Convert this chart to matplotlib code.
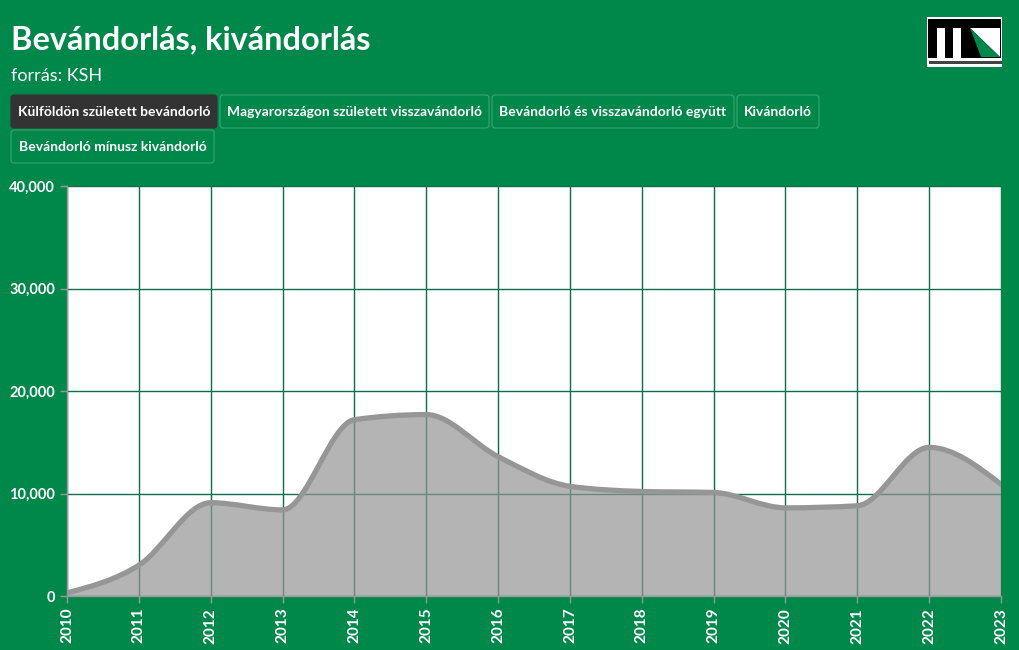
import numpy as np
import matplotlib
matplotlib.use('Agg')
import matplotlib.pyplot as plt
from matplotlib.path import Path
from matplotlib.patches import PathPatch, FancyBboxPatch, Rectangle, Polygon
from matplotlib.ticker import FuncFormatter

# data (KSH, külföldön született bevándorló)
years = [2010, 2011, 2012, 2013, 2014, 2015, 2016, 2017, 2018, 2019, 2020, 2021, 2022, 2023]
values = [300, 3000, 9100, 8400, 17200, 17700, 13600, 10700, 10200, 10100, 8600, 8800, 14500, 10900]

title = 'Bevándorlás, kivándorlás'
subtitle = 'forrás: KSH'
buttons = ['Külföldön született bevándorló', 'Magyarországon született visszavándorló',
           'Bevándorló és visszavándorló együtt', 'Kivándorló', 'Bevándorló mínusz kivándorló']

GREEN = '#00874a'
FONT = 'Lato'


def monotone_path(x, y):
    # cubic bezier segments like d3.curveMonotoneX
    x = np.asarray(x, float)
    y = np.asarray(y, float)
    n = len(x)
    h = np.diff(x)
    s = np.diff(y) / h
    t = np.zeros(n)
    for i in range(1, n - 1):
        p = (s[i - 1] * h[i] + s[i] * h[i - 1]) / (h[i - 1] + h[i])
        t[i] = (np.sign(s[i - 1]) + np.sign(s[i])) * min(abs(s[i - 1]), abs(s[i]), 0.5 * abs(p))
    t[0] = (3 * s[0] - t[1]) / 2
    t[-1] = (3 * s[-1] - t[-2]) / 2
    verts = [(x[0], y[0])]
    codes = [Path.MOVETO]
    for i in range(n - 1):
        dx = h[i] / 3
        verts += [(x[i] + dx, y[i] + dx * t[i]), (x[i + 1] - dx, y[i + 1] - dx * t[i + 1]), (x[i + 1], y[i + 1])]
        codes += [Path.CURVE4] * 3
    return verts, codes


fig = plt.figure(figsize=(10.2, 6.5), dpi=100)
fig.patch.set_facecolor(GREEN)

# header overlay in pixel coordinates
hd = fig.add_axes([0, 0, 1, 1], zorder=0)
hd.set_xlim(0, 1020)
hd.set_ylim(650, 0)
hd.axis('off')

hd.text(11, 49, title, color='white', fontsize=23.4, fontweight='bold', family=FONT, va='baseline')
hd.text(11, 81, subtitle, color='white', fontsize=13, family=FONT, va='baseline')

boxes = [(11, 95, 206), (220, 95, 269), (492, 95, 242), (737, 95, 82), (11, 130, 203)]
for i, (lab, (bx, by, bw)) in enumerate(zip(buttons, boxes)):
    fc = '#333333' if i == 0 else GREEN
    ec = '#333333' if i == 0 else '#3da472'
    hd.add_patch(FancyBboxPatch((bx, by), bw, 33, boxstyle='round,pad=0,rounding_size=3',
                                fc=fc, ec=ec, lw=0.8))
    hd.text(bx + bw / 2, by + 17, lab, color='white', fontsize=10, fontweight='bold',
            family=FONT, ha='center', va='center')

# logo
hd.add_patch(Rectangle((927, 17), 75, 50, fc='white', ec='none'))
hd.add_patch(Rectangle((928, 19), 73, 39, fc='black', ec='none'))
hd.add_patch(Rectangle((937, 28), 8, 30, fc='white', ec='none'))
hd.add_patch(Rectangle((953, 28), 8, 30, fc='white', ec='none'))
hd.add_patch(Polygon([(970, 28), (1000, 28), (1000, 57)], fc='white', ec='none'))
hd.add_patch(Polygon([(970, 28), (1000, 57), (981, 57)], fc=GREEN, ec='none'))
hd.add_patch(Rectangle((929, 61), 73, 2.5, fc='#444444', ec='none'))

# main chart
ax = fig.add_axes([67 / 1020, 1 - 596 / 650, (1001 - 67) / 1020, (596 - 186) / 650], zorder=1)
ax.set_facecolor('white')
ax.set_xlim(2010, 2023)
ax.set_ylim(0, 40000)

verts, codes = monotone_path(years, values)
fill_verts = verts + [(years[-1], 0), (years[0], 0), verts[0]]
fill_codes = codes + [Path.LINETO, Path.LINETO, Path.CLOSEPOLY]
ax.add_patch(PathPatch(Path(fill_verts, fill_codes), fc='#949494', ec='none', alpha=0.7))
ax.add_patch(PathPatch(Path(verts, codes), fc='none', ec='#969696', lw=3.8, capstyle='round',
                       joinstyle='round'))

ax.set_axisbelow(True)
ax.grid(True, color='#0a6e4c', lw=1)
ax.set_xticks(years)
ax.set_yticks([0, 10000, 20000, 30000, 40000])
ax.yaxis.set_major_formatter(FuncFormatter(lambda v, p: '{:,.0f}'.format(v)))
for s in ['top', 'right']:
    ax.spines[s].set_visible(False)
for s in ['left', 'bottom']:
    ax.spines[s].set_color('#999999')
    ax.spines[s].set_linewidth(1)
ax.tick_params(axis='both', colors='#999999', length=5, width=1)
for lab in ax.get_yticklabels():
    lab.set_color('white')
    lab.set_fontweight('bold')
    lab.set_fontsize(10.5)
    lab.set_family(FONT)
for lab in ax.get_xticklabels():
    lab.set_color('white')
    lab.set_fontweight('bold')
    lab.set_fontsize(11)
    lab.set_family(FONT)
    lab.set_rotation(90)

fig.savefig('out.png', dpi=100, facecolor=GREEN)
